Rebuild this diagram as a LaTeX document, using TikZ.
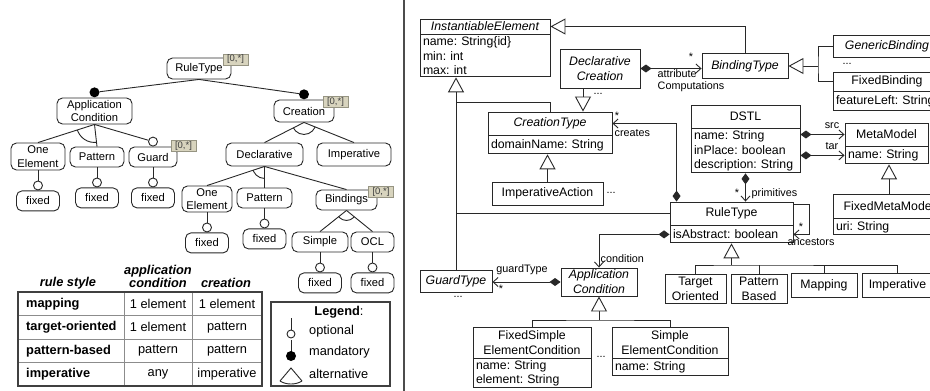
\documentclass[tikz,border=0pt]{standalone}
\usepackage{fontspec}
\setmainfont{Liberation Sans}
\usetikzlibrary{arrows.meta}
\usetikzlibrary{positioning}

\definecolor{tagfill}{RGB}{216,212,190}
\definecolor{tagline}{RGB}{150,148,130}
\definecolor{linegray}{RGB}{40,40,40}

\newcommand\ftfont{\fontsize{11.2}{13.5}\selectfont}
\newcommand\umlfont{\fontsize{12.3}{15}\selectfont}
\newcommand\attrfont{\fontsize{12.3}{14.3}\selectfont}
\newcommand\lblfont{\fontsize{10.8}{12}\selectfont}
\newcommand\tabfont{\fontsize{12.8}{12.5}\selectfont}
\newcommand\tagfont{\fontsize{9.5}{10}\selectfont}
\frenchspacing

\begin{document}
\begin{tikzpicture}
[x=1pt,y=-1pt,%
  ftline/.style={draw=linegray,line width=0.9pt},%
  feat/.style={draw=linegray,rounded corners=5.5pt,line width=0.9pt,align=center,inner sep=1pt,font=\ftfont},%
  tag/.style={draw=tagline,fill=tagfill,inner sep=0pt,minimum width=25pt,minimum height=11pt,font=\tagfont,text=black!75},%
  opt/.style={circle,draw=linegray,fill=white,line width=0.9pt,minimum size=9pt,inner sep=0pt,anchor=south},%
  mand/.style={circle,fill=black,minimum size=10pt,inner sep=0pt,anchor=south},%
  cls/.style={draw=linegray,line width=0.9pt,align=center,inner sep=1pt,font=\umlfont},%
  abs/.style={cls,font=\umlfont\itshape},%
  attrs/.style={draw=linegray,line width=0.9pt,align=left,inner xsep=3pt,inner ysep=1pt,font=\attrfont,below=0pt of #1},%
  uline/.style={draw=linegray,line width=0.9pt},%
  gen/.style={uline,-{Triangle[length=15pt,width=16pt,fill=white]}},%
  comp/.style={uline,{Diamond[length=11pt,width=8pt]}-{Straight Barb[length=5pt,width=9pt]}},%
  lbl/.style={font=\lblfont,inner sep=0.5pt},%
  tabline/.style={draw=black!45,line width=0.7pt},%
  tabframe/.style={draw=black!75,line width=1.3pt},%
  tabhead/.style={font=\tabfont\bfseries\itshape,align=center,inner sep=0pt}]
\useasboundingbox (0,0) rectangle (930,391);
\fill[white] (0,0) rectangle (930,391);
%% feature model
\node[feat,minimum width=64pt,minimum height=21pt] (ftRule) at (199,68.5) {RuleType};
\node[feat,minimum width=75pt,minimum height=26pt] (ftAppCond) at (94.5,111) {Application\\Condition};
\node[feat,minimum width=60pt,minimum height=22pt] (ftCreation) at (304,111) {Creation};
\node[feat,minimum width=54pt,minimum height=27pt] (ftOneEl) at (38,156.5) {One\\Element};
\node[feat,minimum width=54pt,minimum height=20pt] (ftPattern) at (97,157) {Pattern};
\node[feat,minimum width=48pt,minimum height=20pt] (ftGuard) at (153,157) {Guard};
\node[feat,minimum width=77pt,minimum height=23pt] (ftDecl) at (264.5,154.5) {Declarative};
\node[feat,minimum width=74pt,minimum height=23pt] (ftImp) at (354,154.5) {Imperative};
\node[feat,minimum width=50pt,minimum height=26pt] (ftOneElB) at (207,199) {One\\Element};
\node[feat,minimum width=55pt,minimum height=20pt] (ftPatternB) at (264.5,198) {Pattern};
\node[feat,minimum width=61pt,minimum height=20pt] (ftBind) at (346.5,200) {Bindings};
\node[feat,minimum width=56pt,minimum height=20pt] (ftSimple) at (320,242) {Simple};
\node[feat,minimum width=43pt,minimum height=20pt] (ftOCL) at (372.5,242) {OCL};
%%
\node[mand] (mAppCond) at (ftAppCond.north) {};
\node[mand] (mCreation) at (ftCreation.north) {};
\node[opt] (oGuard) at (ftGuard.north) {};
\draw[ftline] (ftRule.south) -- (mAppCond);
\draw[ftline] (ftRule.south) -- (mCreation);
\draw[ftline] (ftAppCond.south) -- (oGuard);
\foreach \a/\b in {ftAppCond/ftOneEl, ftAppCond/ftPattern, ftCreation/ftDecl, ftCreation/ftImp,
  ftDecl/ftOneElB, ftDecl/ftPatternB, ftDecl/ftBind, ftBind/ftSimple, ftBind/ftOCL}
  \draw[ftline] (\a.south) -- (\b.north);
%% alternatives
\foreach \a/\b/\c/\r in {ftAppCond/ftOneEl/ftPattern/18, ftCreation/ftDecl/ftImp/12,
  ftDecl/ftOneElB/ftPatternB/12, ftBind/ftSimple/ftOCL/10}
{
  \begin{scope}
    \clip (\a.south) -- (\b.north) -- (\c.north) -- cycle;
    \draw[ftline] (\a.south) circle[radius=\r pt];
  \end{scope}
}
%% fixed leaves
\foreach \fx/\up in {fxA/ftOneEl, fxB/ftPattern, fxC/ftGuard, fxD/ftOneElB,
  fxE/ftPatternB, fxF/ftSimple, fxG/ftOCL}
{
  \node[feat,minimum width=43pt,minimum height=20pt,below=20pt of \up] (\fx) {fixed};
  \node[opt] (o\fx) at (\fx.north) {};
  \draw[ftline] (\up) -- (o\fx);
}
%% cardinalities
\node[tag] (tRule) at (235.5,59.5) {[0,*]};
\node[tag] (tCreation) at (335.5,102) {[0,*]};
\node[tag] (tGuard) at (183.5,146) {[0,*]};
\node[tag] (tBind) at (381,192) {[0,*]};
%% rule style table
\node[tabhead] (hStyle) at (68,283) {rule style};
\node[tabhead] (hAppCond) at (158,276.5) {application\\condition};
\node[tabhead] (hCreation) at (226,283) {creation};
\foreach \y in {315.5,339,362.5}
  \draw[tabline] (18,\y) -- (262,\y);
\foreach \x in {124,192}
  \draw[tabline] (\x,292) -- (\x,386);
\draw[tabframe] (18,292) rectangle (262,386);
\foreach \r/\s/\p/\q [evaluate=\r as \yy using 303.75+23.5*\r] in
  {0/mapping/1 element/1 element, 1/target-oriented/1 element/pattern,
   2/pattern-based/pattern/pattern, 3/imperative/any/imperative}
{
  \node[font=\tabfont\bfseries,anchor=west,inner sep=0pt] (tabS\r) at (26,\yy) {\s};
  \node[font=\tabfont,inner sep=0pt] (tabA\r) at (158,\yy) {\p};
  \node[font=\tabfont,inner sep=0pt] (tabC\r) at (227,\yy) {\q};
}
%% legend
\draw[tabframe] (271,302) rectangle (390,386);
\node[font=\tabfont,inner sep=0pt] (lgTitle) at (339,312) {\textbf{Legend}:};
\draw[ftline] (291,318) -- (291,330);
\draw[ftline,fill=white] (291,334) circle[radius=4pt];
\node[font=\tabfont,anchor=west,inner sep=0pt] (lgOpt) at (309,331) {optional};
\draw[ftline] (291,340) -- (291,352);
\fill[black] (291,356) circle[radius=5pt];
\node[font=\tabfont,anchor=west,inner sep=0pt] (lgMand) at (309,352) {mandatory};
\draw[ftline] (280,381) -- (291,368) -- (302,381);
\draw[ftline] (280,381) .. controls (286,385) and (296,385) .. (302,381);
\node[font=\tabfont,anchor=west,inner sep=0pt] (lgAlt) at (309,374) {alternative};
%% separator
\draw[draw=black!70,line width=1.2pt] (404,0) -- (404,391);
%% metamodel classes
\node[abs,minimum width=130pt,minimum height=15pt] (ie) at (485,26.5) {InstantiableElement};
\node[attrs=ie,text width=124pt,minimum height=42pt] (ie-a) {name: String\{id\}\\min: int\\max: int};
\node[abs,minimum width=80pt,minimum height=39pt] (dc) at (600,68.5) {Declarative\\Creation};
\node[abs,minimum width=86pt,minimum height=25pt] (bt) at (745,66) {BindingType};
\node[abs,minimum width=108pt,minimum height=22pt] (gb) at (887,46) {GenericBinding};
\node[cls,minimum width=108pt,minimum height=19pt] (fb) at (887,81.5) {FixedBinding};
\node[attrs=fb,text width=102pt,minimum height=19pt] (fb-a) {featureLeft: String};
\node[abs,minimum width=124pt,minimum height=23pt] (ct) at (550,123.5) {CreationType};
\node[attrs=ct,text width=118pt,minimum height=18pt] (ct-a) {domainName: String};
\node[cls,minimum width=111pt,minimum height=23pt] (ia) at (547.5,193.5) {ImperativeAction};
\node[cls,minimum width=109pt,minimum height=23pt] (dstl) at (745.5,116.5) {DSTL};
\node[attrs=dstl,text width=103pt,minimum height=44pt] (dstl-a) {name: String\\inPlace: boolean\\description: String};
\node[cls,minimum width=83pt,minimum height=23pt] (mm) at (886.5,134.5) {MetaModel};
\node[attrs=mm,text width=77pt,minimum height=17pt] (mm-a) {name: String};
\node[cls,minimum width=112pt,minimum height=24pt] (fmm) at (889,206) {FixedMetaModel};
\node[attrs=fmm,text width=106pt,minimum height=16pt] (fmm-a) {uri: String};
\node[cls,minimum width=123pt,minimum height=23pt] (rt) at (731.5,213.5) {RuleType};
\node[attrs=rt,text width=117pt,minimum height=17pt] (rt-a) {isAbstract: boolean};
\node[abs,minimum width=76pt,minimum height=28pt] (uac) at (599,282) {Application\\Condition};
\node[abs,minimum width=72pt,minimum height=22pt] (gt) at (456,281) {GuardType};
\node[cls,minimum width=118pt,minimum height=31pt] (fse) at (532,342.5) {FixedSimple\\ElementCondition};
\node[attrs=fse,text width=112pt,minimum height=29pt] (fse-a) {name: String\\element: String};
\node[cls,minimum width=116pt,minimum height=31pt] (se) at (670,342.5) {Simple\\ElementCondition};
\node[attrs=se,text width=110pt,minimum height=17pt] (se-a) {name: String};
\node[cls,minimum width=61pt,minimum height=29pt] (rsTO) at (695.5,288.5) {Target\\Oriented};
\node[cls,minimum width=56pt,minimum height=29pt] (rsPB) at (759,288.5) {Pattern\\Based};
\node[cls,minimum width=66pt,minimum height=24pt] (rsMap) at (824,285) {Mapping};
\node[cls,minimum width=71pt,minimum height=24pt] (rsImp) at (897.5,285) {Imperative};
%% generalizations
\draw[gen] (bt.north) |- (ie.east);
\coordinate (ieJ) at (456,102);
\draw[gen] (ieJ) -- (ieJ |- ie-a.south);
\draw[uline] (ct.north) |- (ieJ);
\draw[uline] (rt.west) -| (ieJ);
\draw[uline] (gt.north) -- (ieJ);
\coordinate (dcFoot) at ([xshift=-17pt]dc.south);
\draw[gen] (dcFoot) -- (dcFoot |- ct.north);
\draw[gen] (ia.north) -- (ia.north |- ct-a.south);
\coordinate (btJ) at (818,66);
\draw[gen] (btJ) -- (bt.east);
\draw[uline] (gb.west) -| (btJ) |- (fb.west);
\draw[gen] (fmm.north) -- (fmm.north |- mm-a.south);
\coordinate (acJ) at (599,320);
\draw[gen] (acJ) -- (uac.south);
\draw[uline] (fse.north) |- (acJ) -| (se.north);
\coordinate (rtJ) at (731.5,265);
\draw[gen] (rtJ) -- (rt-a.south);
\draw[uline] (rsTO.north) |- (rtJ) -| (rsImp.north);
\draw[uline] (rsPB.north) -- (rsPB.north |- rtJ);
\draw[uline] (rsMap.north) -- (rsMap.north |- rtJ);
%% compositions
\coordinate (rtC) at ([xshift=7pt]rt.north west);
\draw[comp] (rtC) |- (ct.east);
\draw[comp] (dstl-a.south) -- (dstl-a.south |- rt.north);
\draw[comp] (dstl-a.east |- mm.west) -- (mm.west);
\draw[comp] (dstl-a.east |- mm-a.west) -- (mm-a.west);
\draw[comp] (rt-a.west) -| (uac.north);
\draw[comp] (uac.west) -- (uac.west -| gt.east);
\draw[comp] (dc.east) -- (dc.east -| bt.west);
\draw[uline,-{Straight Barb[length=5pt,width=9pt]}] ([yshift=-3pt]rt.north east) -- ++(16,0) |- (rt-a.east);
%% role names
\node[lbl] (lCrStar) at (617,116) {*};
\node[lbl,anchor=west] (lCreates) at (614,133) {creates};
\node[lbl] (lPrimStar) at (737,193) {*};
\node[lbl,anchor=west] (lPrim) at (751,194) {primitives};
\node[lbl] (lSrc) at (832,126) {src};
\node[lbl] (lTar) at (832,146) {tar};
\node[lbl] (lAncStar) at (801,227) {*};
\node[lbl] (lAnc) at (811,242) {ancestors};
\node[lbl,anchor=west] (lCond) at (600,259) {condition};
\node[lbl] (lGuard) at (522,270) {guardType};
\node[lbl] (lGuardStar) at (501,289) {*};
\node[lbl] (lAttrStar) at (691,57) {*};
\node[lbl,anchor=west] (lAttr) at (657,74) {attribute};
\node[lbl,anchor=west] (lComp) at (657,87) {Computations};
%% dots
\node[lbl] (dDC) at (598,94) {...};
\node[lbl] (dIA) at (611,193) {...};
\node[lbl] (dBind) at (847,64) {...};
\node[lbl] (dGT) at (458,297) {...};
\node[lbl] (dAC) at (601,357) {...};
\end{tikzpicture}
\end{document}
